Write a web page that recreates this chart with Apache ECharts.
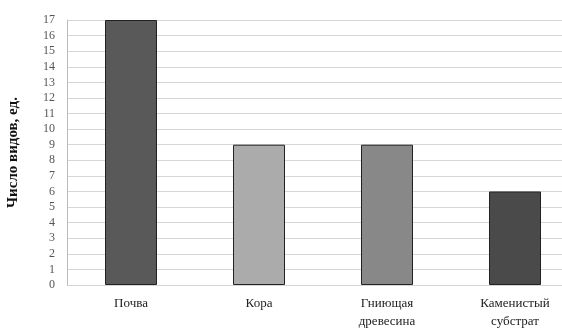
<!DOCTYPE html>
<html>
<head>
<meta charset="utf-8">
<style>html,body{margin:0;padding:0;background:#fff;}#c{width:562px;height:329px;}</style>
<script src="https://cdn.jsdelivr.net/npm/echarts@6/dist/echarts.min.js"></script>
</head>
<body>
<div id="c"></div>
<script>
// Субстраты и число видов на каждом
const categories = ['Почва', 'Кора', 'Гниющая\nдревесина', 'Каменистый\nсубстрат'];
const speciesCount = [17, 9, 9, 6];
const barColors = ['#595959', '#ababab', '#888888', '#4a4a4a'];
const yAxisTitle = 'Число видов, ед.';

const chart = echarts.init(document.getElementById('c'));
chart.setOption({
  animation: false,
  backgroundColor: '#ffffff',
  grid: { left: 67, top: 20, width: 512, height: 265, outerBoundsMode: 'none', containLabel: false },
  xAxis: {
    type: 'category',
    data: categories,
    axisLine: { show: false },
    axisTick: { show: false },
    axisLabel: {
      fontFamily: 'Liberation Serif',
      fontSize: 13,
      color: '#222',
      margin: 10,
      lineHeight: 18
    }
  },
  yAxis: {
    type: 'value',
    min: 0,
    max: 17,
    interval: 1,
    name: yAxisTitle,
    nameLocation: 'middle',
    nameGap: 46,
    nameTextStyle: { fontFamily: 'Liberation Serif', fontSize: 15, fontWeight: 'bold', color: '#111' },
    axisLine: { show: true, lineStyle: { color: '#bbbbbb' } },
    axisTick: { show: false },
    axisLabel: { fontFamily: 'Liberation Serif', fontSize: 12, color: '#555', margin: 12 },
    splitLine: { lineStyle: { color: '#d6d6d6', width: 1 } }
  },
  series: [{
    type: 'bar',
    data: speciesCount.map((v, i) => ({ value: v, itemStyle: { color: barColors[i] } })),
    barWidth: 52,
    itemStyle: { borderColor: '#222', borderWidth: 1 }
  }]
});
</script>
</body>
</html>
